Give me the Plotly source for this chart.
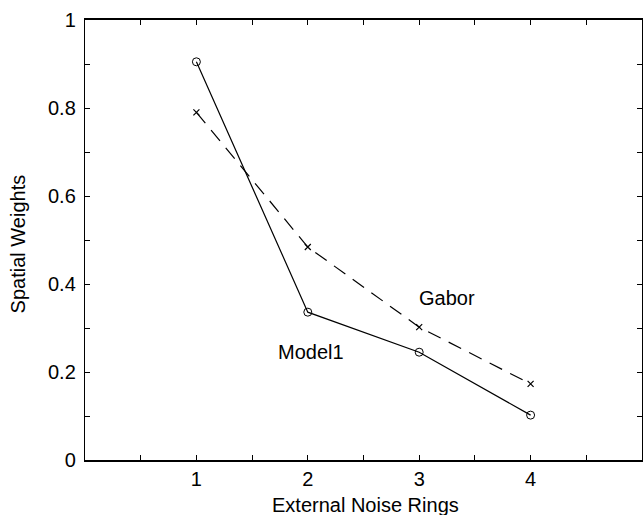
import plotly.graph_objects as go

rings = [1, 2, 3, 4]
model1 = [0.905, 0.336, 0.245, 0.102]
gabor = [0.79, 0.484, 0.302, 0.173]
x_tickvals = [1, 2, 3, 4]
y_tickvals = [0, 0.2, 0.4, 0.6, 0.8, 1]
y_ticktext = ["0", "0.2", "0.4", "0.6", "0.8", "1"]

FONT = "Liberation Sans, Arial, Helvetica, sans-serif"
FS = 20

fig = go.Figure()
fig.add_trace(go.Scatter(
    x=rings, y=model1, mode="lines+markers", name="Model1",
    line=dict(color="black", width=1.2),
    marker=dict(symbol="circle-open", size=8, color="black", line=dict(width=1)),
    showlegend=False))
fig.add_trace(go.Scatter(
    x=rings, y=gabor, mode="lines+markers", name="Gabor",
    line=dict(color="black", width=1.2, dash="14px,9px"),
    marker=dict(symbol="x-thin-open", size=6, color="black", line=dict(width=1.2)),
    showlegend=False))

fig.add_annotation(x=3.25, y=0.368, text="Gabor", showarrow=False,
                   font=dict(size=FS, color="black", family=FONT))
fig.add_annotation(x=2.03, y=0.245, text="Model1", showarrow=False,
                   font=dict(size=FS, color="black", family=FONT))

# axis titles
fig.add_annotation(x=0.503, xref="paper", y=0, yref="paper", yshift=-32,
                   text="External Noise Rings", showarrow=False,
                   xanchor="center", yanchor="top",
                   font=dict(size=FS, color="black", family=FONT))
fig.add_annotation(x=0, xref="paper", y=0.49, yref="paper", xshift=-67,
                   text="Spatial Weights", showarrow=False, textangle=-90,
                   xanchor="center", yanchor="middle",
                   font=dict(size=FS, color="black", family=FONT))

x_all = [0.5 * i for i in range(0, 11)]
x_txt = [str(int(v)) if (v in x_tickvals) else "" for v in x_all]
y_all = [round(0.1 * i, 1) for i in range(0, 11)]
y_txt = [y_ticktext[y_tickvals.index(v)] if v in y_tickvals else "" for v in y_all]

fig.update_xaxes(range=[0, 5], tickmode="array", tickvals=x_all, ticktext=x_txt,
                 ticks="inside", ticklen=5, tickwidth=1, tickcolor="black",
                 showline=True, linecolor="black", linewidth=1.6, mirror="ticks",
                 showgrid=False, zeroline=False, automargin=False,
                 tickfont=dict(size=FS, color="black", family=FONT))
fig.update_yaxes(range=[0, 1], tickmode="array", tickvals=y_all, ticktext=y_txt,
                 ticks="inside", ticklen=5, tickwidth=1, tickcolor="black",
                 showline=True, linecolor="black", linewidth=1.4, mirror="ticks",
                 showgrid=False, zeroline=False, automargin=False,
                 ticklabelstandoff=4,
                 tickfont=dict(size=FS, color="black", family=FONT))

fig.update_layout(width=643, height=515, margin=dict(l=85, r=1, t=20, b=55, autoexpand=False),
                  plot_bgcolor="white", paper_bgcolor="white")

fig.write_html("out.html", config={"displayModeBar": False},
               post_script="document.body.style.margin='0';document.body.style.overflow='hidden';")
